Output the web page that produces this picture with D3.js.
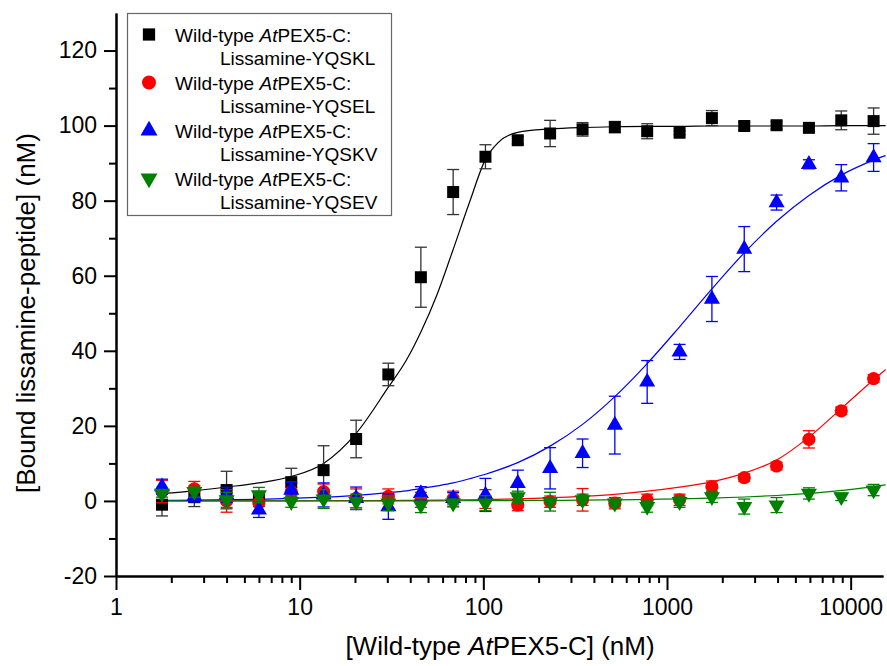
<!DOCTYPE html>
<html>
<head>
<meta charset="utf-8">
<script src="https://cdn.jsdelivr.net/npm/d3@7"></script>
<style>
body { margin: 0; background: #fff; }
svg { font-family: "Liberation Sans", Arial, sans-serif; }
.axis path, .axis line { stroke: #000; stroke-width: 2; }
.axis text { font-family: "Liberation Sans", Arial, sans-serif; font-size: 23px; fill: #000; }
.title { font-size: 26px; fill: #000; }
.legend text { font-size: 19px; fill: #000; }
</style>
</head>
<body>
<div id="chart"></div>
<script>
// protein concentration (nM)
var conc = [1.78, 2.67, 4.0, 6.0, 9.0, 13.5, 20.3, 30.4, 45.7, 68.5, 102.7, 154, 231, 347, 520, 780, 1171, 1756, 2634, 3951, 5926, 8889, 13333];

// bound peptide (nM) and error
var yqskl    = [-1.0, 1.0, 2.9, 0.5, 5.0, 8.2, 16.5, 33.7, 59.6, 82.3, 91.7, 96.1, 97.9, 99.0, 99.6, 98.5, 98.1, 102.0, 99.9, 100.1, 99.4, 101.4, 101.2];
var yqsklErr = [3.0, 2.5, 5.0, 2.0, 3.7, 6.5, 5.0, 3.0, 8.0, 6.0, 3.2, 1.0, 3.5, 1.8, 1.5, 2.0, 0.5, 2.0, 1.0, 1.0, 1.0, 2.5, 3.5];

var yqsel    = [2.5, 3.2, 0.0, -0.5, 2.5, 2.5, 0.7, 1.2, 0.3, 0.6, 0.5, -1.1, -0.2, 0.3, -0.6, 0.3, 0.3, 3.8, 6.2, 9.3, 16.4, 24.0, 32.6];
var yqselErr = [3.0, 2.0, 3.0, 2.5, 2.5, 2.0, 2.5, 2.0, 2.0, 2.0, 2.5, 1.5, 1.5, 3.0, 1.5, 1.5, 1.5, 1.5, 1.0, 1.0, 2.3, 1.0, 1.0];

var yqskv    = [3.8, 1.2, 1.6, -2.4, 2.9, 1.6, 0.7, -1.5, 2.0, 0.7, 1.6, 4.7, 8.7, 12.7, 20.2, 31.7, 39.7, 53.8, 67.1, 79.5, 89.7, 86.1, 91.5];
var yqskvErr = [2.0, 1.5, 2.0, 2.0, 2.0, 3.2, 3.0, 3.4, 1.8, 1.5, 4.4, 3.5, 5.5, 3.8, 7.7, 5.7, 2.0, 6.0, 6.0, 2.0, 1.2, 3.5, 3.7];

var yqsev    = [2.0, 2.5, 0.3, 1.6, -0.2, 0.5, -0.2, -0.6, -1.1, -0.6, -0.6, 1.1, -0.2, 0.3, -0.6, -1.5, -0.2, 1.1, -1.5, -1.1, 2.0, 1.1, 2.9];
var yqsevErr = [1.0, 1.5, 2.0, 2.0, 1.5, 2.5, 2.0, 2.0, 2.0, 1.0, 2.0, 1.5, 2.5, 1.5, 1.0, 1.5, 1.5, 1.5, 2.0, 2.0, 1.5, 1.0, 1.5];

// fitted curves
var fitConc  = [1.78, 2.67, 4.0, 6.0, 9.0, 13.5, 20.3, 30.4, 38, 45.7, 56, 68.5, 84, 102.7, 120, 154, 231, 347, 520, 780, 1171, 1756, 2634, 3951, 5926, 8889, 13333, 15500];
var fitYqskl = [2.0, 2.7, 3.7, 4.8, 6.5, 10.0, 18.0, 30.3, 37.4, 45.0, 55.0, 67.0, 79.5, 91.0, 95.4, 98.2, 99.1, 99.5, 99.7, 99.8, 99.8, 99.9, 99.9, 99.9, 99.9, 100.0, 100.0, 100.0];
var fitYqsel = [0, 0, 0, 0, 0.03, 0.05, 0.07, 0.1, 0.13, 0.16, 0.2, 0.25, 0.3, 0.37, 0.43, 0.55, 0.82, 1.2, 1.75, 2.6, 3.7, 5.1, 7.4, 10.9, 17.0, 24.6, 32.3, 35.0];
var fitYqskv = [0.13, 0.2, 0.3, 0.44, 0.66, 0.99, 1.48, 2.2, 2.7, 3.3, 4.0, 4.8, 5.9, 7.1, 8.2, 10.2, 14.6, 20.4, 27.8, 36.6, 46.4, 56.5, 66.1, 74.5, 81.4, 86.8, 90.8, 92.0];
var fitYqsev = [0, 0, 0, 0, 0, 0, 0, 0.02, 0.03, 0.03, 0.04, 0.05, 0.06, 0.07, 0.08, 0.1, 0.15, 0.2, 0.3, 0.4, 0.55, 0.75, 1.05, 1.45, 2.0, 2.8, 3.8, 4.3];

var peptides = ['Lissamine-YQSKL', 'Lissamine-YQSEL', 'Lissamine-YQSKV', 'Lissamine-YQSEV'];
var colors   = ['#000000', '#ff0000', '#0000ff', '#008000'];
var xTicks = [1, 10, 100, 1000, 10000];
var yTicks = [-20, 0, 20, 40, 60, 80, 100, 120];

var series = [
  { y: yqskl, err: yqsklErr, fit: fitYqskl, shape: 'square' },
  { y: yqsel, err: yqselErr, fit: fitYqsel, shape: 'circle' },
  { y: yqskv, err: yqskvErr, fit: fitYqskv, shape: 'up' },
  { y: yqsev, err: yqsevErr, fit: fitYqsev, shape: 'down' }
];

var svg = d3.select('#chart')
  .append('svg')
  .attr('width', 887)
  .attr('height', 666);

var x = d3.scaleLog().domain([1, 15000]).range([116, 883]);
var y = d3.scaleLinear().domain([-20, 130]).range([576, 13]);

function symbolPath(shape, big) {
  var s = d3.symbol();
  if (shape === 'square') s.type(d3.symbolSquare).size(big ? 150 : 144);
  else if (shape === 'circle') s.type(d3.symbolCircle).size(big ? 154 : 136);
  else s.type(d3.symbolTriangle).size(big ? 125 : 112);
  return s();
}

// minor ticks
var xMinor = [];
xTicks.forEach(function(d) {
  for (var k = 2; k <= 9; k++) if (d * k <= 15000) xMinor.push(d * k);
});
var yMinor = d3.range(-10, 130, 20);

svg.append('g')
  .attr('class', 'axis')
  .attr('transform', 'translate(0,576)')
  .call(d3.axisBottom(x).tickValues(xMinor).tickSize(7).tickSizeOuter(0).tickFormat(''));

svg.append('g')
  .attr('class', 'axis')
  .attr('transform', 'translate(0,576)')
  .call(d3.axisBottom(x).tickValues(xTicks).tickSize(14).tickSizeOuter(0).tickPadding(9)
    .tickFormat(function(d) { return String(d); }));

svg.append('g')
  .attr('class', 'axis')
  .attr('transform', 'translate(116,0)')
  .call(d3.axisLeft(y).tickValues(yMinor).tickSize(7).tickSizeOuter(0).tickFormat(''));

svg.append('g')
  .attr('class', 'axis')
  .attr('transform', 'translate(116,0)')
  .call(d3.axisLeft(y).tickValues(yTicks).tickSize(12).tickSizeOuter(0).tickPadding(7)
    .tickFormat(function(d) { return String(d); }));

// axis titles
var xt = svg.append('text')
  .attr('class', 'title')
  .attr('x', 500)
  .attr('y', 655)
  .attr('text-anchor', 'middle');
xt.append('tspan').text('[Wild-type ');
xt.append('tspan').attr('font-style', 'italic').text('At');
xt.append('tspan').text('PEX5-C] (nM)');

svg.append('text')
  .attr('class', 'title')
  .attr('transform', 'translate(35,313) rotate(-90)')
  .attr('text-anchor', 'middle')
  .text('[Bound lissamine-peptide] (nM)');

// fit curves
var line = d3.line()
  .x(function(d) { return x(d[0]); })
  .y(function(d) { return y(d[1]); })
  .curve(d3.curveMonotoneX);

series.forEach(function(s, i) {
  svg.append('path')
    .datum(fitConc.map(function(c, j) { return [c, s.fit[j]]; }))
    .attr('d', line)
    .attr('fill', 'none')
    .attr('stroke', colors[i])
    .attr('stroke-width', 1.2);
});

// error bars and markers
series.forEach(function(s, i) {
  var pts = conc.map(function(c, j) { return { c: c, v: s.y[j], e: s.err[j] }; });
  var g = svg.append('g');

  var eb = g.selectAll('.eb')
    .data(pts)
    .enter()
    .append('g')
    .attr('stroke', i === 0 ? '#333' : colors[i])
    .attr('stroke-width', 1.3);

  eb.append('line')
    .attr('x1', function(d) { return x(d.c); })
    .attr('x2', function(d) { return x(d.c); })
    .attr('y1', function(d) { return y(d.v - d.e); })
    .attr('y2', function(d) { return y(d.v + d.e); });
  eb.append('line')
    .attr('x1', function(d) { return x(d.c) - 6; })
    .attr('x2', function(d) { return x(d.c) + 6; })
    .attr('y1', function(d) { return y(d.v + d.e); })
    .attr('y2', function(d) { return y(d.v + d.e); });
  eb.append('line')
    .attr('x1', function(d) { return x(d.c) - 6; })
    .attr('x2', function(d) { return x(d.c) + 6; })
    .attr('y1', function(d) { return y(d.v - d.e); })
    .attr('y2', function(d) { return y(d.v - d.e); });

  g.selectAll('.pt')
    .data(pts)
    .enter()
    .append('path')
    .attr('d', symbolPath(s.shape, false))
    .attr('fill', colors[i])
    .attr('transform', function(d) {
      return 'translate(' + x(d.c) + ',' + y(d.v) + ')' + (s.shape === 'down' ? ' rotate(180)' : '');
    });
});

// legend
var legend = svg.append('g').attr('class', 'legend');
legend.append('rect')
  .attr('x', 127.5)
  .attr('y', 13.5)
  .attr('width', 264)
  .attr('height', 202)
  .attr('fill', '#fff')
  .attr('stroke', '#666')
  .attr('stroke-width', 1.2);

series.forEach(function(s, i) {
  var base = 41.5 + i * 48;
  legend.append('path')
    .attr('d', symbolPath(s.shape, true))
    .attr('fill', colors[i])
    .attr('transform', 'translate(149,' + (base - 7) + ')' + (s.shape === 'down' ? ' rotate(180)' : ''));
  var t = legend.append('text').attr('x', 175).attr('y', base);
  t.append('tspan').text('Wild-type ');
  t.append('tspan').attr('font-style', 'italic').text('At');
  t.append('tspan').text('PEX5-C:');
  legend.append('text')
    .attr('x', 220)
    .attr('y', base + 23.5)
    .text(peptides[i]);
});
</script>
</body>
</html>
